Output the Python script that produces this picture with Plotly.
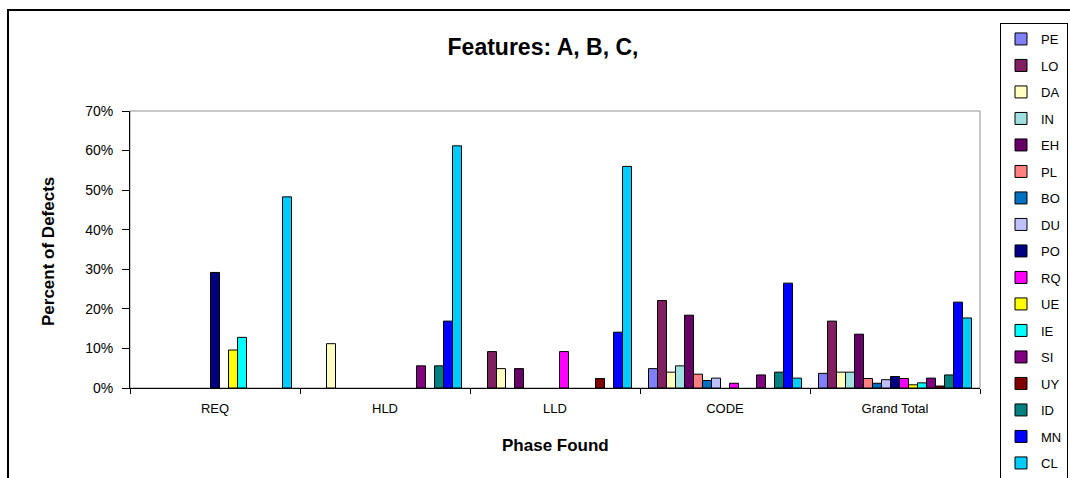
import plotly.graph_objects as go

phases = ["REQ", "HLD", "LLD", "CODE", "Grand Total"]
series_names = ["PE", "LO", "DA", "IN", "EH", "PL", "BO", "DU", "PO",
                "RQ", "UE", "IE", "SI", "UY", "ID", "MN", "CL"]

PE = [None, None, None, 4.9, 3.7]
LO = [None, None, 9.2, 22.1, 16.9]
DA = [None, 11.2, 4.9, 4.0, 4.0]
IN = [None, None, None, 5.6, 4.0]
EH = [None, None, 4.9, 18.4, 13.6]
PL = [None, None, None, 3.5, 2.4]
BO = [None, None, None, 1.9, 1.2]
DU = [None, None, None, 2.5, 2.1]
PO = [29.2, None, None, None, 2.9]
RQ = [None, None, 9.2, 1.2, 2.4]
UE = [9.6, None, None, None, 0.8]
IE = [12.8, None, None, None, 1.3]
SI = [None, 5.6, None, 3.3, 2.5]
UY = [None, None, 2.4, None, 0.5]
ID = [None, 5.6, None, 4.0, 3.3]
MN = [None, 16.9, 14.1, 26.5, 21.7]
CL = [48.3, 61.2, 56.0, 2.5, 17.7]

series_values = [PE, LO, DA, IN, EH, PL, BO, DU, PO, RQ, UE, IE, SI, UY, ID, MN, CL]

colors = ["#8080FF", "#802060", "#FFFFC0", "#A0E0E0", "#660066", "#FF8080",
          "#0070C0", "#C0C0FF", "#000080", "#FF00FF", "#FFFF00", "#00FFFF",
          "#800080", "#800000", "#008080", "#0000FF", "#00CCFF"]

y_ticks = [0, 10, 20, 30, 40, 50, 60, 70]
y_tick_labels = ["0%", "10%", "20%", "30%", "40%", "50%", "60%", "70%"]

FONT = "Liberation Sans, Arial, sans-serif"

fig = go.Figure()
for name, vals, col in zip(series_names, series_values, colors):
    fig.add_trace(go.Bar(
        x=phases, y=vals, name=name, legendgroup=name,
        marker=dict(color=col, line=dict(color="black", width=1)),
    ))

# plot area geometry (pixels): left 130, right 980, top 111, bottom 388
W, H = 1070, 478
L, R, T, B = 130, 980, 111, 388
pw, ph = R - L, B - T

def px_x(x):
    return (x - L) / pw

def px_y(y):
    return (B - y) / ph

fig.update_layout(
    width=W, height=H,
    margin=dict(l=L, r=W - R, t=T, b=H - B, autoexpand=False),
    paper_bgcolor="white", plot_bgcolor="white",
    barmode="group", bargap=0.1, bargroupgap=0,
    font=dict(family=FONT, color="black", size=13),
    title=dict(text="<b>Features: A, B, C,</b>", x=543 / W, xanchor="center",
               y=1 - 47 / H, yanchor="middle", xref="container", yref="container",
               font=dict(size=23, family=FONT, color="black")),
    xaxis=dict(type="category", categoryorder="array", categoryarray=phases,
               range=[-0.5, len(phases) - 0.5],
               showline=True, linecolor="black", linewidth=1,
               ticks="outside", ticklen=5, tickcolor="black", tickson="boundaries",
               ticklabelstandoff=8,
               showgrid=False, zeroline=False,
               tickfont=dict(size=13, family=FONT, color="black")),
    yaxis=dict(range=[0, 70], tickmode="array", tickvals=y_ticks, ticktext=y_tick_labels,
               showline=True, linecolor="black", linewidth=1,
               ticks="outside", ticklen=7, tickcolor="black",
               ticklabelstandoff=6,
               showgrid=False, zeroline=False,
               tickfont=dict(size=14, family=FONT, color="black")),
    yaxis2=dict(overlaying="y", side="left", range=[0, 70], tickvals=y_ticks,
                ticks="inside", ticklen=4, tickcolor="black",
                showticklabels=False, showgrid=False, zeroline=False, showline=False),
    xaxis2=dict(overlaying="x", type="linear", range=[-0.5, len(phases) - 0.5],
                tick0=-0.5, dtick=1, ticks="inside", ticklen=4, tickcolor="black",
                showticklabels=False, showgrid=False, zeroline=False, showline=False,
                side="bottom"),
    legend=dict(x=px_x(1000), y=px_y(23), xanchor="left", yanchor="top",
                bordercolor="black", borderwidth=1, bgcolor="white",
                font=dict(size=13, family=FONT, color="black"),
                tracegroupgap=6.6, traceorder="grouped", itemwidth=30,
                maxheight=470),
    shapes=[
        # plot area border (grey)
        dict(type="rect", xref="paper", yref="paper", x0=0, x1=1, y0=0, y1=1,
             line=dict(color="#909090", width=1), layer="below"),
        # outer chart border
        dict(type="rect", xref="paper", yref="paper",
             x0=px_x(8), x1=px_x(1090), y0=px_y(500), y1=px_y(10),
             line=dict(color="black", width=2), layer="below"),
    ],
    annotations=[
        dict(text="<b>Percent of Defects</b>", textangle=-90, xref="paper", yref="paper",
             x=px_x(48), y=px_y(252), xanchor="center", yanchor="middle", showarrow=False,
             font=dict(size=17, family=FONT, color="black")),
        dict(text="<b>Phase Found</b>", xref="paper", yref="paper",
             x=px_x(555), y=px_y(445), xanchor="center", yanchor="middle", showarrow=False,
             font=dict(size=17, family=FONT, color="black")),
    ],
)

fig.write_html("out.html")
